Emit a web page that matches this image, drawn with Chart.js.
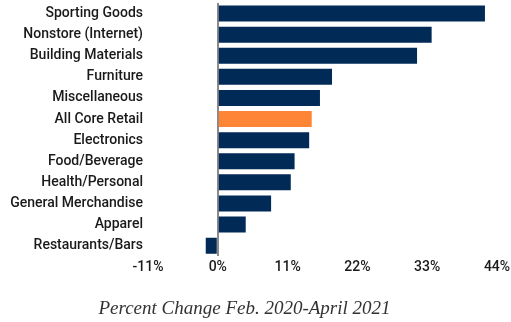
<!DOCTYPE html>
<html>
<head>
<meta charset="utf-8">
<script src="https://cdn.jsdelivr.net/npm/chart.js@4/dist/chart.umd.min.js"></script>
<style>
    html, body { margin: 0; padding: 0; background: #fff; }
    .wrap { position: relative; width: 511px; height: 322px; }
    .chart-title {
        position: absolute; left: 0; width: 489px; top: 297px;
        text-align: center; font: italic 19px "Liberation Serif", serif; color: #333;
    }
</style>
</head>
<body>
<div class="wrap">
    <canvas id="chart" width="511" height="322"></canvas>
    <div class="chart-title">Percent Change Feb. 2020-April 2021</div>
</div>
<script>
const CATEGORIES = ['Sporting Goods', 'Nonstore (Internet)', 'Building Materials', 'Furniture', 'Miscellaneous',
    'All Core Retail', 'Electronics', 'Food/Beverage', 'Health/Personal', 'General Merchandise', 'Apparel', 'Restaurants/Bars'];
const PCT_CHANGE = [42.1, 33.7, 31.4, 18.0, 16.1, 14.8, 14.4, 12.1, 11.5, 8.4, 4.4, -1.9];
const X_TICKS = [-11, 0, 11, 22, 33, 44];

const NAVY = '#012a56';
const ORANGE = '#fd8535';

const barColors = CATEGORIES.map((c) => (c === 'All Core Retail' ? ORANGE : NAVY));

new Chart(document.getElementById('chart'), {
    type: 'bar',
    data: {
        labels: CATEGORIES,
        datasets: [{ data: PCT_CHANGE, backgroundColor: barColors, categoryPercentage: 1, barPercentage: 0.76 }]
    },
    options: {
        indexAxis: 'y',
        responsive: false,
        animation: false,
        layout: { padding: { top: 3, bottom: 43, left: 0, right: 14 } },
        plugins: { legend: { display: false }, tooltip: { enabled: false } },
        scales: {
            x: {
                min: X_TICKS[0],
                max: X_TICKS[X_TICKS.length - 1],
                afterBuildTicks: (scale) => { scale.ticks = X_TICKS.map((v) => ({ value: v })); },
                afterFit: (scale) => { scale.paddingLeft = 0; scale.paddingRight = 0; },
                border: { display: false },
                grid: {
                    drawTicks: false,
                    color: (ctx) => (ctx.tick && ctx.tick.value === 0 ? '#8a8a8a' : 'transparent'),
                    lineWidth: 2
                },
                ticks: {
                    padding: 3,
                    color: '#1a1a1a',
                    font: { family: 'Roboto', size: 14, weight: '500' },
                    callback: (v) => v + '%'
                }
            },
            y: {
                border: { display: false },
                grid: { display: false, drawTicks: false },
                afterFit: (scale) => { scale.width = 148; scale.paddingTop = 0; scale.paddingBottom = 0; },
                ticks: {
                    padding: 5,
                    color: '#1a1a1a',
                    font: { family: 'Roboto', size: 14, weight: '500' }
                }
            }
        }
    }
});
</script>
</body>
</html>
